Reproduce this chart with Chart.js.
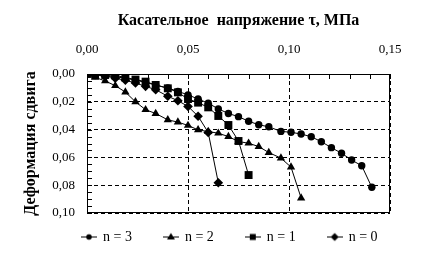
<!DOCTYPE html>
<html>
<head>
<meta charset="utf-8">
<script src="https://cdn.jsdelivr.net/npm/chart.js@4.4.1/dist/chart.umd.min.js"></script>
<style>
  html, body { margin: 0; padding: 0; background: #fff; }
</style>
</head>
<body>
<canvas id="myChart" width="426" height="260"></canvas>
<script>
// shear stress steps, MPa
var tau = [0, 0.004, 0.009, 0.014, 0.019, 0.024, 0.029, 0.034, 0.040, 0.045, 0.050, 0.055, 0.060, 0.065,
           0.070, 0.075, 0.080, 0.085, 0.090, 0.096, 0.101, 0.106, 0.111, 0.116, 0.121, 0.126, 0.131, 0.136, 0.141];

// shear strain for each n (one value per stress step, series stop at failure)
var strainN3 = [0, 0.0005, 0.0012, 0.002, 0.003, 0.0045, 0.006, 0.008, 0.010, 0.0125, 0.015, 0.018, 0.021, 0.0251,
                0.0284, 0.0307, 0.034, 0.0365, 0.038, 0.0413, 0.0419, 0.0432, 0.0451, 0.0487, 0.053, 0.057, 0.0619, 0.066, 0.0815];
var strainN2 = [0, 0.0024, 0.005, 0.0084, 0.013, 0.020, 0.0257, 0.0284, 0.033, 0.0346, 0.037, 0.0402, 0.0414, 0.0426,
                0.045, 0.0486, 0.0498, 0.0522, 0.0565, 0.0605, 0.067, 0.0892];
var strainN1 = [0, 0.0005, 0.0007, 0.001, 0.0025, 0.004, 0.0055, 0.0079, 0.0103, 0.0132, 0.018, 0.0206, 0.024, 0.0302,
                0.0367, 0.0482, 0.0727];
var strainN0 = [0, 0.0005, 0.0015, 0.003, 0.0045, 0.0065, 0.0089, 0.0113, 0.016, 0.0192, 0.0233, 0.0304, 0.042, 0.0782];

var seriesLabels = ['n = 3', 'n = 2', 'n = 1', 'n = 0'];
var xTicks = [0, 0.05, 0.10, 0.15];
var yTicks = [0, 0.02, 0.04, 0.06, 0.08, 0.10];

var serif = "'Liberation Serif', 'Times New Roman', serif";

function pts(strain) {
    return strain.map(function (s, i) { return { x: tau[i], y: s }; });
}

function fmt(v) {
    return Number(v).toFixed(2).replace('.', ',');
}

// little marker shapes for the legend (line + marker)
function legendIcon(style) {
    var c = document.createElement('canvas');
    c.width = 16; c.height = 11;
    var g = c.getContext('2d');
    g.strokeStyle = '#000'; g.fillStyle = '#000'; g.lineWidth = 1;
    g.beginPath(); g.moveTo(0, 5.5); g.lineTo(16, 5.5); g.stroke();
    g.beginPath();
    if (style === 'circle') {
        g.arc(8, 5.5, 2.8, 0, Math.PI * 2);
    } else if (style === 'triangle') {
        g.moveTo(8, 1.5); g.lineTo(12, 8); g.lineTo(4, 8); g.closePath();
    } else if (style === 'rect') {
        g.rect(5, 2.5, 6, 6);
    } else {
        g.moveTo(8, 1.5); g.lineTo(12, 5.5); g.lineTo(8, 9.5); g.lineTo(4, 5.5); g.closePath();
    }
    g.fill();
    return c;
}

var markerStyles = ['circle', 'triangle', 'rect', 'rectRot'];
var markerSizes = [3.7, 4.8, 5.6, 4.8];
var strains = [strainN3, strainN2, strainN1, strainN0];

var datasets = strains.map(function (s, i) {
    return {
        label: seriesLabels[i],
        data: pts(s),
        borderColor: '#000',
        backgroundColor: '#000',
        borderWidth: 1,
        pointStyle: markerStyles[i],
        pointRadius: markerSizes[i],
        pointBorderWidth: 0,
        pointBackgroundColor: '#000',
        order: 3 - i
    };
});

// plot frame and inner minor tick marks
var frame = {
    id: 'frame',
    beforeDatasetsDraw: function (chart) {
        var ctx = chart.ctx, a = chart.chartArea;
        var sx = chart.scales.x, sy = chart.scales.y;
        ctx.save();
        ctx.strokeStyle = '#000';
        ctx.lineWidth = 1;
        ctx.setLineDash([]);
        ctx.strokeRect(Math.round(a.left) + 0.5, Math.round(a.top) + 0.5,
                       Math.round(a.right - a.left) - 1, Math.round(a.bottom - a.top) - 1);
        ctx.beginPath();
        for (var i = 0; i <= 15; i++) {
            var px = Math.round(sx.getPixelForValue(i / 100)) + 0.5;
            ctx.moveTo(px, a.top);
            ctx.lineTo(px, a.top + 5);
        }
        for (var k = 0; k <= 20; k++) {
            var py = Math.round(sy.getPixelForValue(k * 0.005)) + 0.5;
            ctx.moveTo(a.left, py);
            ctx.lineTo(a.left + 5, py);
        }
        ctx.stroke();
        ctx.restore();
    }
};

var legendPad = 32;

// keep the wide-spaced legend short, and place it under the plot area
var legendPlace = {
    id: 'legendPlace',
    beforeLayout: function (chart) {
        var lg = chart.legend;
        if (lg && !lg._fitWrapped) {
            var orig = lg.fit;
            lg.fit = function () { orig.apply(this, arguments); this.height = 34; };
            lg._fitWrapped = true;
        }
    },
    afterLayout: function (chart) {
        var lg = chart.legend, a = chart.chartArea;
        var startX = (lg.left + legendPad + lg.right - lg.lineWidths[0]) / 2;
        var d = (a.left - 5) - startX;
        lg.left += d;
        lg.right += d;
        lg.top = (a.bottom + 24) - (legendPad + 7);
        lg.bottom = lg.top + legendPad + 20;
        lg.height = lg.bottom - lg.top;
    }
};

var ctx = document.getElementById('myChart').getContext('2d');
var myChart = new Chart(ctx, {
    type: 'scatter',
    data: { datasets: datasets },
    plugins: [frame, legendPlace],
    options: {
        responsive: false,
        animation: false,
        showLine: true,
        layout: { padding: { top: 0, left: 0, right: 36, bottom: 13 } },
        elements: { line: { tension: 0 } },
        plugins: {
            tooltip: { enabled: false },
            legend: {
                position: 'bottom',
                labels: {
                    color: '#000',
                    font: { family: serif, size: 14 },
                    usePointStyle: true,
                    pointStyleWidth: 14,
                    padding: legendPad,
                    generateLabels: function (chart) {
                        return chart.data.datasets.map(function (ds, i) {
                            return {
                                text: ds.label,
                                pointStyle: legendIcon(markerStyles[i]),
                                fillStyle: '#000',
                                strokeStyle: '#000',
                                lineWidth: 0,
                                fontColor: '#000',
                                datasetIndex: i
                            };
                        });
                    }
                }
            }
        },
        scales: {
            x: {
                type: 'linear',
                position: 'top',
                min: 0,
                max: 0.15,
                afterBuildTicks: function (s) { s.ticks = xTicks.map(function (v) { return { value: v }; }); },
                afterFit: function (s) { s.height = 74; },
                ticks: {
                    color: '#000',
                    font: { family: serif, size: 13 },
                    padding: 17,
                    maxRotation: 0,
                    callback: function (v) { return fmt(v); }
                },
                grid: { color: '#000', lineWidth: 1, drawTicks: false },
                border: { display: false, dash: [4, 3] },
                title: {
                    display: true,
                    text: 'Касательное  напряжение τ, МПа',
                    color: '#000',
                    font: { family: serif, size: 16, weight: 'bold' },
                    padding: { top: 11, bottom: 0 }
                }
            },
            y: {
                type: 'linear',
                reverse: true,
                min: 0,
                max: 0.10,
                afterBuildTicks: function (s) { s.ticks = yTicks.map(function (v) { return { value: v }; }); },
                afterFit: function (s) { s.width = 87; },
                ticks: {
                    color: '#000',
                    font: { family: serif, size: 13 },
                    padding: 12,
                    callback: function (v) { return fmt(v); }
                },
                grid: { color: '#000', lineWidth: 1, drawTicks: false },
                border: { display: false, dash: [4, 3] },
                title: {
                    display: true,
                    text: 'Деформация сдвига',
                    color: '#000',
                    font: { family: serif, size: 16, weight: 'bold' },
                    padding: { top: 21, bottom: 0 }
                }
            }
        }
    }
});
</script>
</body>
</html>
